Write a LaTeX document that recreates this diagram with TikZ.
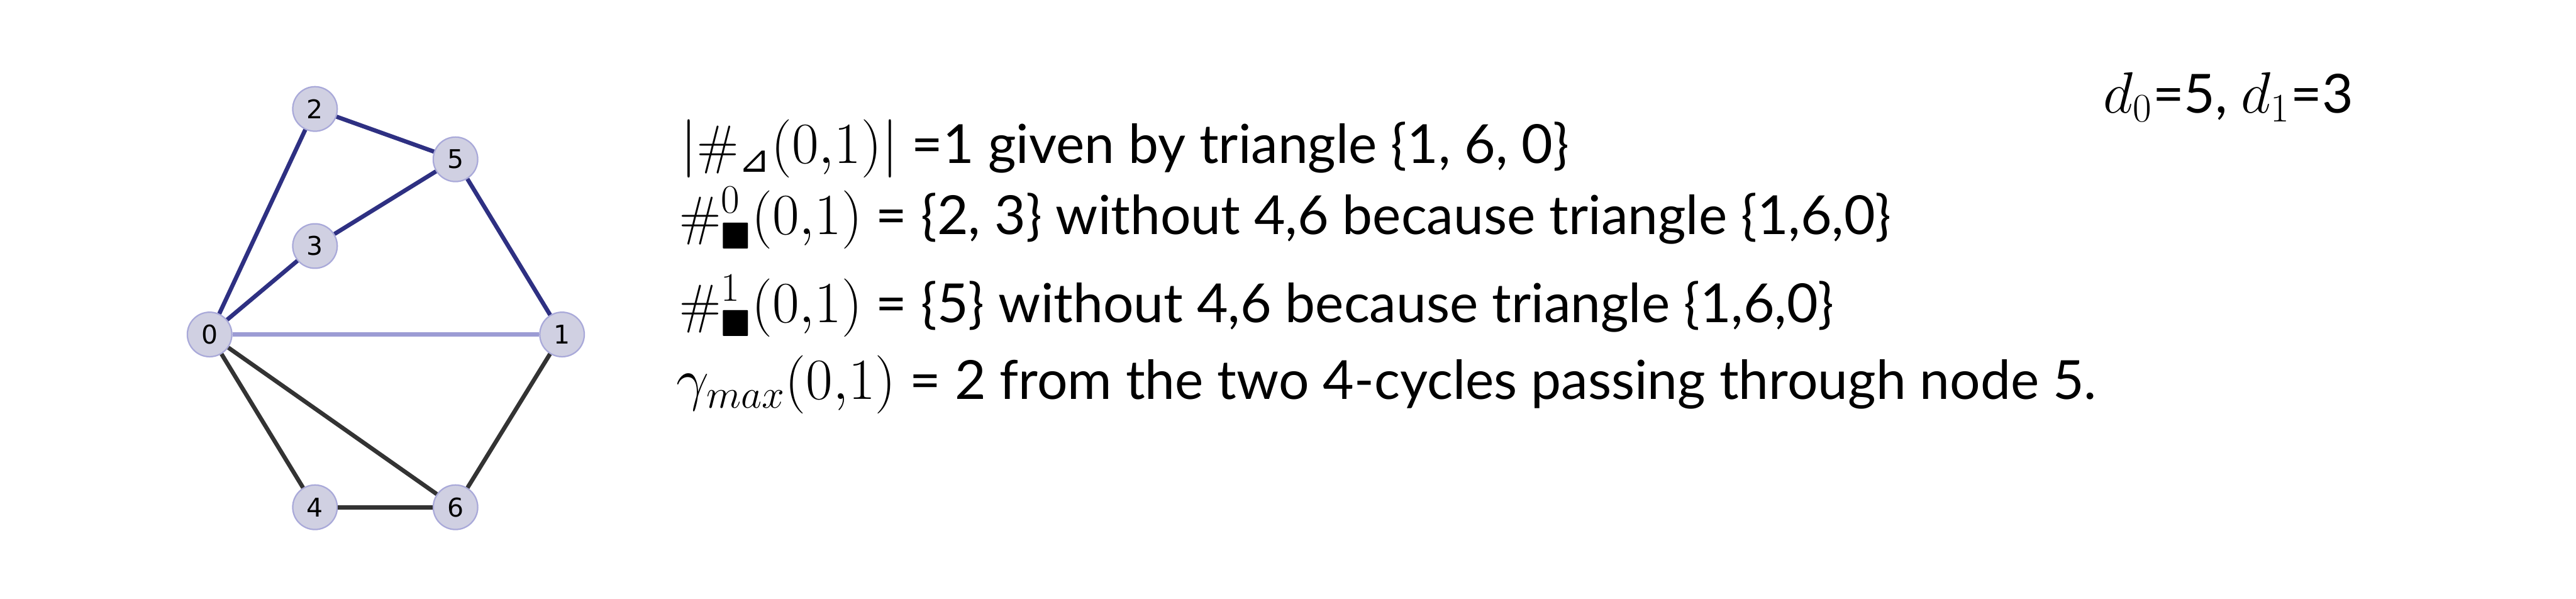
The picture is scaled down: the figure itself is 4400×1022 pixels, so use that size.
\documentclass[tikz,border=0pt]{standalone}
\usepackage{amsmath, amssymb}
\usepackage{fontspec}
\setsansfont{Lato}
\newfontfamily\dejavu{DejaVu Sans}
\newcommand{\rtri}{\text{\dejavu ⊿}}

\begin{document}
\begin{tikzpicture}[x=0.25pt, y=-0.25pt,
  vertice/.style={circle, draw=borda, fill=nocor, line width=0.6pt, minimum size=19pt, inner sep=0pt, font=\dejavu\fontsize{11}{11}\selectfont},
  aresta/.style={line width=1.8pt},
  texto/.style={anchor=base west, inner sep=0pt, font=\sffamily\fontsize{23}{28}\selectfont}]
% --- CORES DO GRAFO ---
\definecolor{nocor}{HTML}{D0D0E2}
\definecolor{borda}{HTML}{A9A9D9}
\definecolor{azul}{HTML}{2E3082}
\definecolor{lilas}{HTML}{9C9CD4}
\definecolor{cinza}{HTML}{333333}

\useasboundingbox (0,0) rectangle (4400,1022);

% LAYER 1: Vertices
\node[vertice] (n0) at (358,571) {0};
\node[vertice] (n1) at (960,571) {1};
\node[vertice] (n2) at (538,186) {2};
\node[vertice] (n3) at (538,420) {3};
\node[vertice] (n4) at (538,866) {4};
\node[vertice] (n5) at (778,272) {5};
\node[vertice] (n6) at (778,866) {6};

% LAYER 2: Arestas
\draw[aresta, color=azul] (n0) -- (n2);
\draw[aresta, color=azul] (n2) -- (n5);
\draw[aresta, color=azul] (n0) -- (n3);
\draw[aresta, color=azul] (n3) -- (n5);
\draw[aresta, color=azul] (n5) -- (n1);
\draw[aresta, color=lilas] (n0) -- (n1);
\draw[aresta, color=cinza] (n0) -- (n4);
\draw[aresta, color=cinza] (n0) -- (n6);
\draw[aresta, color=cinza] (n4) -- (n6);
\draw[aresta, color=cinza] (n6) -- (n1);

% LAYER 3: Texto
\node[texto] (grau) at (3592,193) {$d_0$=5, $d_1$=3};
\node[texto] (tri) at (1162,279) {$\smash{|\#_{\rtri}(0{,}1)|}$ =1 given by triangle \{1, 6, 0\}};
\node[texto] (zero) at (1160,400) {$\smash{\#^{0}_{\blacksquare}(0{,}1)}$ = \{2, 3\} without 4,6 because triangle \{1,6,0\}};
\node[texto] (um) at (1160,550) {$\smash{\#^{1}_{\blacksquare}(0{,}1)}$ = \{5\} without 4,6 because triangle \{1,6,0\}};
\node[texto] (gama) at (1155,682) {$\gamma_{max}(0{,}1)$ = 2 from the two 4-cycles passing through node 5.};
\end{tikzpicture}
\end{document}
